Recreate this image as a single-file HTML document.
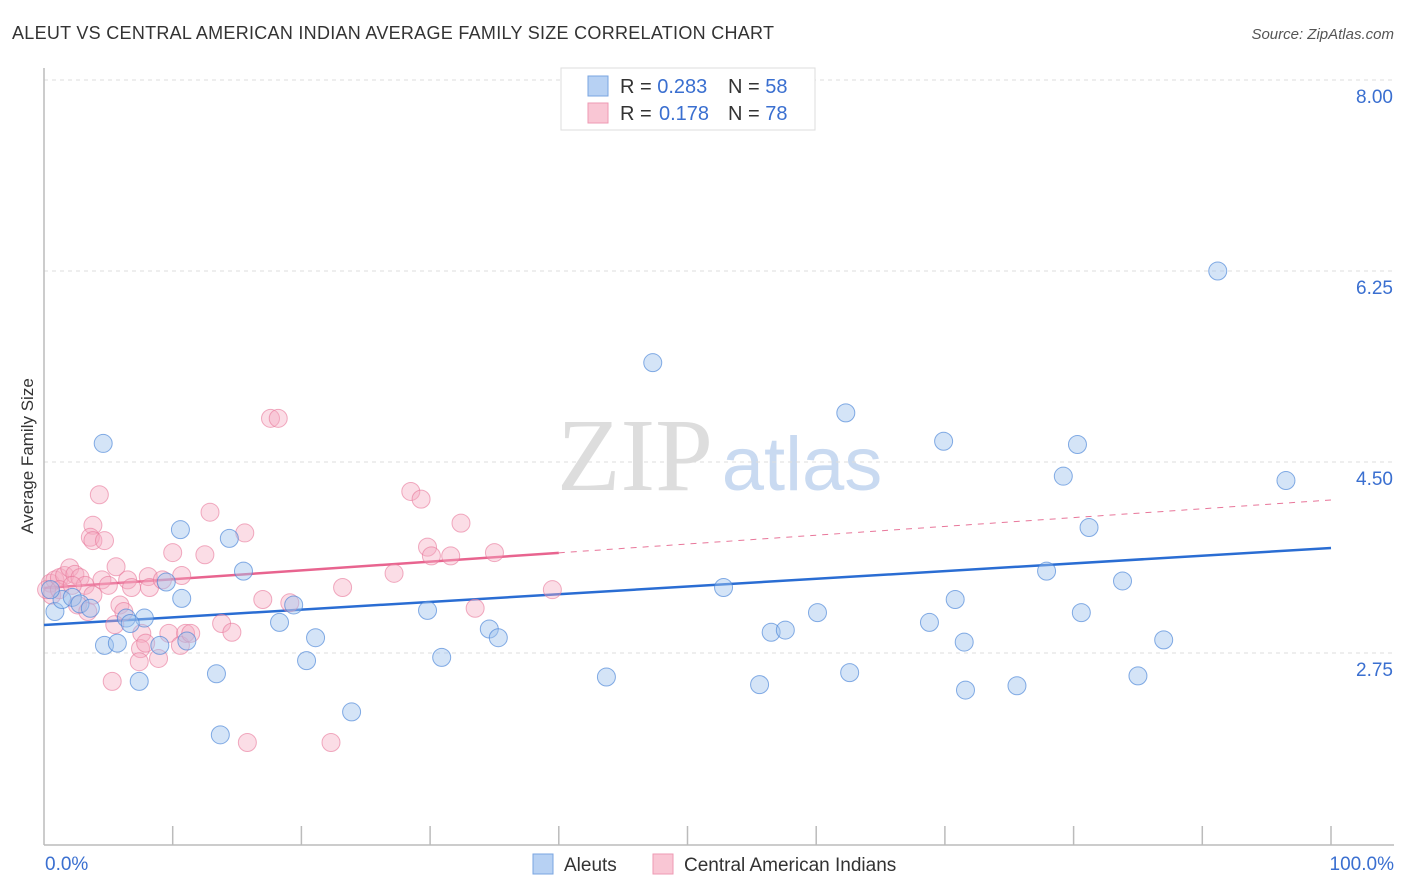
<!DOCTYPE html>
<html><head><meta charset="utf-8">
<style>
body{margin:0;background:#fff;width:1406px;height:892px;overflow:hidden;font-family:"Liberation Sans",sans-serif;}
svg{display:block}
</style></head>
<body>
<svg id="chart" width="1406" height="892" xmlns="http://www.w3.org/2000/svg">
<text x="12" y="39" font-size="18" fill="#333" textLength="762">ALEUT VS CENTRAL AMERICAN INDIAN AVERAGE FAMILY SIZE CORRELATION CHART</text>
<text x="1394" y="39" font-size="15" fill="#555" font-style="italic" text-anchor="end">Source: ZipAtlas.com</text>
<text transform="translate(33,456) rotate(-90)" font-size="17" fill="#333" text-anchor="middle">Average Family Size</text>
<g>
<text x="635" y="490" font-size="104" fill="#ddd" font-family="Liberation Serif,serif" text-anchor="middle">ZIP</text>
<text x="802" y="490" font-size="76" fill="#c9daf1" text-anchor="middle">atlas</text>
</g>
<g id="grid"></g>
<g id="axes"></g>
<g id="trends"></g>
<g id="points"></g>
<g>
<rect x="561" y="68" width="254" height="62" fill="#fff" stroke="#ddd"/>
<rect x="588" y="76" width="20" height="20" fill="#b7d1f3" stroke="#7aa5e0"/>
<rect x="588" y="103" width="20" height="20" fill="#f9c6d4" stroke="#ee9ab3"/>
<text x="620" y="93" font-size="20" fill="#333">R = <tspan fill="#3a6fd0">0.283</tspan><tspan x="728">N = </tspan><tspan fill="#3a6fd0">58</tspan></text>
<text x="620" y="120" font-size="20" fill="#333">R = <tspan x="659" fill="#3a6fd0">0.178</tspan><tspan x="728">N = </tspan><tspan fill="#3a6fd0">78</tspan></text>
</g>
<g>
<rect x="533" y="854" width="20" height="20" fill="#b7d1f3" stroke="#7aa5e0"/>
<text x="564" y="871" font-size="19" fill="#333">Aleuts</text>
<rect x="653" y="854" width="20" height="20" fill="#f9c6d4" stroke="#ee9ab3"/>
<text x="684" y="871" font-size="19" fill="#333">Central American Indians</text>
</g>
</svg>
<script>
const yTicks=[8.00,6.25,4.50,2.75];
const xTickLabels=["0.0%","100.0%"];
const blueX=[4.6,0.85,1.4,2.2,2.8,3.6,4.7,5.7,7.4,7.8,6.4,9.0,9.5,10.6,10.7,11.1,13.4,13.7,14.4,15.5,18.3,19.4,20.4,21.1,23.9,29.8,30.9,34.6,35.3,43.7,47.3,52.8,55.6,56.5,57.6,60.1,62.3,62.6,68.8,69.9,70.8,71.5,71.6,75.6,77.9,79.2,80.3,80.6,81.2,83.8,85.0,87.0,91.2,96.5,0.5,6.7];
const blueY=[4.67,3.13,3.24,3.26,3.20,3.16,2.82,2.84,2.49,3.07,3.07,2.82,3.40,3.88,3.25,2.86,2.56,2.00,3.80,3.50,3.03,3.19,2.68,2.89,2.21,3.14,2.71,2.97,2.89,2.53,5.41,3.35,2.46,2.94,2.96,3.12,4.95,2.57,3.03,4.69,3.24,2.85,2.41,2.45,3.50,4.37,4.66,3.12,3.90,3.41,2.54,2.87,6.25,4.33,3.33,3.02];
const pinkX=[17.6,18.2,4.3,12.9,3.8,3.6,3.8,4.7,15.6,10.0,12.5,28.5,29.3,32.4,29.8,30.1,31.6,35.0,27.2,39.5,23.2,17.0,19.1,33.5,5.6,10.7,8.1,0.5,0.85,1.2,1.6,2.0,2.4,2.8,3.2,0.6,0.2,1.2,4.5,5.0,6.5,6.8,8.2,9.2,2.6,3.4,5.9,6.2,5.5,7.6,7.5,7.4,5.3,8.9,9.7,10.6,11.0,11.4,7.9,13.8,14.6,15.8,22.3,2.2,3.8];
const pinkY=[4.90,4.90,4.20,4.04,3.92,3.81,3.78,3.78,3.85,3.67,3.65,4.23,4.16,3.94,3.72,3.64,3.64,3.67,3.48,3.33,3.35,3.24,3.21,3.16,3.54,3.46,3.45,3.39,3.42,3.44,3.46,3.53,3.47,3.44,3.37,3.28,3.33,3.33,3.42,3.37,3.42,3.35,3.35,3.42,3.19,3.13,3.19,3.13,3.01,2.93,2.79,2.67,2.49,2.70,2.93,2.82,2.93,2.93,2.84,3.02,2.94,1.93,1.93,3.37,3.28];
const blueTrend=[3.006,3.712];
const pinkTrend=[3.345,4.152];
const pinkSolidEnd=40;

const NS="http://www.w3.org/2000/svg";
const X0=44,X1=1331;
function xs(v){return X0+(X1-X0)*v/100;}
function ys(v){return 80+(8-v)*109.14;}
function mk(tag,attrs,parent){const e=document.createElementNS(NS,tag);for(const k in attrs)e.setAttribute(k,attrs[k]);parent.appendChild(e);return e;}
const grid=document.getElementById('grid'),axes=document.getElementById('axes'),trends=document.getElementById('trends'),pts=document.getElementById('points');
yTicks.forEach(t=>{
 const l=mk('line',{x1:44,x2:1394,y1:ys(t),y2:ys(t),stroke:'#ddd','stroke-dasharray':'4,4'},grid);
 
 
 const tx=mk('text',{x:1393,y:ys(t)+23,'font-size':19,fill:'#3a6fd0','text-anchor':'end'},grid);
 tx.textContent=t.toFixed(2);
 
 
});
const ax=mk('line',{x1:44,x2:44,y1:68,y2:845,stroke:'#bbb','stroke-width':1.5},axes);


const bx=mk('line',{x1:44,x2:1394,y1:845,y2:845,stroke:'#bbb','stroke-width':1.5},axes);


for(let i=1;i<=10;i++){
 const t=mk('line',{x1:xs(i*10),x2:xs(i*10),y1:826,y2:845,stroke:'#bbb','stroke-width':1.5},axes);
 
 
}
const xl0=mk('text',{x:45,y:870,'font-size':19,fill:'#3a6fd0'},axes);xl0.textContent=xTickLabels[0];


const xl1=mk('text',{x:1394,y:870,'font-size':19,fill:'#3a6fd0','text-anchor':'end'},axes);xl1.textContent=xTickLabels[1];



function tline(tr,x1,x2,col,dash,w){
 const f=v=>tr[0]+(tr[1]-tr[0])*v/100;
 const a={x1:xs(x1),x2:xs(x2),y1:ys(f(x1)),y2:ys(f(x2)),stroke:col,'stroke-width':w};
 if(dash)a['stroke-dasharray']=dash;
 return mk('line',a,trends);
}
const tp2=tline(pinkTrend,pinkSolidEnd,100,'#e8769a','6,6',1);


const tp=tline(pinkTrend,0,pinkSolidEnd,'#e8648f',null,2.5);


const tb=tline(blueTrend,0,100,'#2a6dd3',null,2.5);



pinkX.forEach((x,i)=>{
 const c=mk('circle',{cx:xs(x),cy:ys(pinkY[i]),r:9,fill:'rgba(246,170,192,0.4)',stroke:'rgba(232,118,154,0.6)','stroke-width':1},pts);
 
 
});
blueX.forEach((x,i)=>{
 const c=mk('circle',{cx:xs(x),cy:ys(blueY[i]),r:9,fill:'rgba(160,196,238,0.45)',stroke:'rgba(70,130,215,0.65)','stroke-width':1},pts);
 
 
});
</script>
</body></html>
